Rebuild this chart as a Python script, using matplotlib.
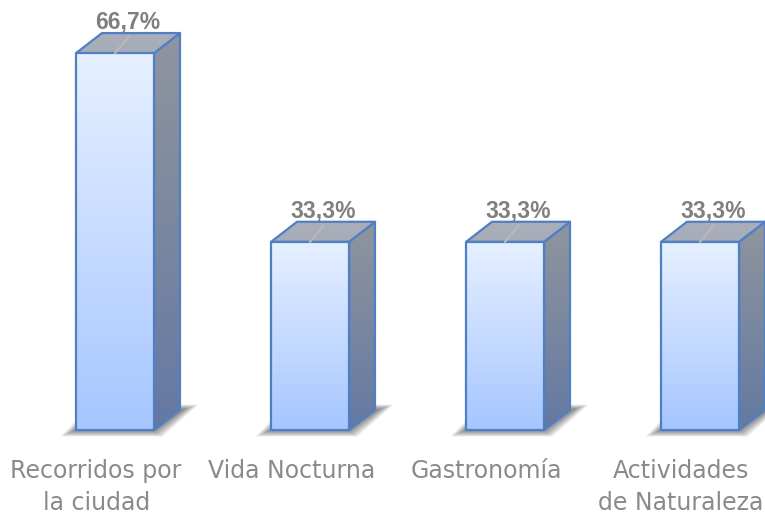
import matplotlib.pyplot as plt
import numpy as np
from matplotlib.colors import LinearSegmentedColormap
from matplotlib.patches import Polygon

categories = ["Recorridos por\nla ciudad", "Vida Nocturna", "Gastronomía", "Actividades\nde Naturaleza"]
values = [66.7, 33.3, 33.3, 33.3]
value_labels = ["66,7%", "33,3%", "33,3%", "33,3%"]

# 3d look
bar_w = 0.40
dx = 0.133
dy = 3.55
edge = "#4F7FC4"

front_cmap = LinearSegmentedColormap.from_list("front", ["#A6C6FF", "#E6F0FF"])
side_cmap = LinearSegmentedColormap.from_list("side", ["#6479A2", "#90959E"])
top_cmap = LinearSegmentedColormap.from_list("top", ["#A7ACB9", "#A9AEBA"])


def gradFace(ax, pts, cmap, z):
    pts = np.array(pts)
    poly = Polygon(pts, closed=True, facecolor="none", edgecolor=edge, lw=1.6, zorder=z + 0.5, joinstyle="round")
    ax.add_patch(poly)
    grad = np.linspace(0, 1, 256).reshape(-1, 1)
    im = ax.imshow(grad, extent=[pts[:, 0].min(), pts[:, 0].max(), pts[:, 1].min(), pts[:, 1].max()],
                   aspect="auto", cmap=cmap, origin="lower", zorder=z, interpolation="bilinear")
    im.set_clip_path(poly)


def shadow(ax, x0, x1):
    # soft shadow round the base, a bit to the left and below
    for k in range(12):
        pts = [(x0 - 0.015 - k * 0.006, -0.2 - k * 0.09), (x1 + k * 0.004, -0.2 - k * 0.09),
               (x1 + dx + 0.03 + k * 0.006, dy + 0.2 + k * 0.07), (x0 + dx - k * 0.005, dy + 0.2 + k * 0.07)]
        ax.add_patch(Polygon(pts, closed=True, facecolor="black", edgecolor="none", alpha=0.045, zorder=1))


def drawBar(ax, i, v, z):
    x0 = i - bar_w / 2
    x1 = i + bar_w / 2
    shadow(ax, x0, x1)
    gradFace(ax, [(x1, 0), (x1 + dx, dy), (x1 + dx, v + dy), (x1, v)], side_cmap, z)
    gradFace(ax, [(x0, v), (x1, v), (x1 + dx, v + dy), (x0 + dx, v + dy)], top_cmap, z + 1)
    gradFace(ax, [(x0, 0), (x1, 0), (x1, v), (x0, v)], front_cmap, z + 2)


fig = plt.figure(figsize=(7.65, 5.16), dpi=100)
ax = fig.add_axes([0, 0, 1, 1])

for i, v in enumerate(values):
    drawBar(ax, i, v, 10 + i * 5)
    # leader line and value label
    ax.plot([i, i + 0.07], [v, v + 2.9], color="#BDB8B2", lw=1.5, zorder=40)
    ax.text(i + 0.065, v + dy + 1.95, value_labels[i], ha="center", va="center",
            fontsize=16.5, fontweight="bold", family="Liberation Sans", color="#7F7F7F", zorder=41)

for i, c in enumerate(categories):
    ax.text(i - 0.097, -5.1, c, ha="center", va="top", fontsize=17, color="#8A8A8A",
            linespacing=1.45, multialignment="center")

ax.set_xlim(-0.59, 3.333)
ax.set_ylim(-15.22, 76.1)
ax.axis("off")

fig.savefig("out.png", dpi=100)
